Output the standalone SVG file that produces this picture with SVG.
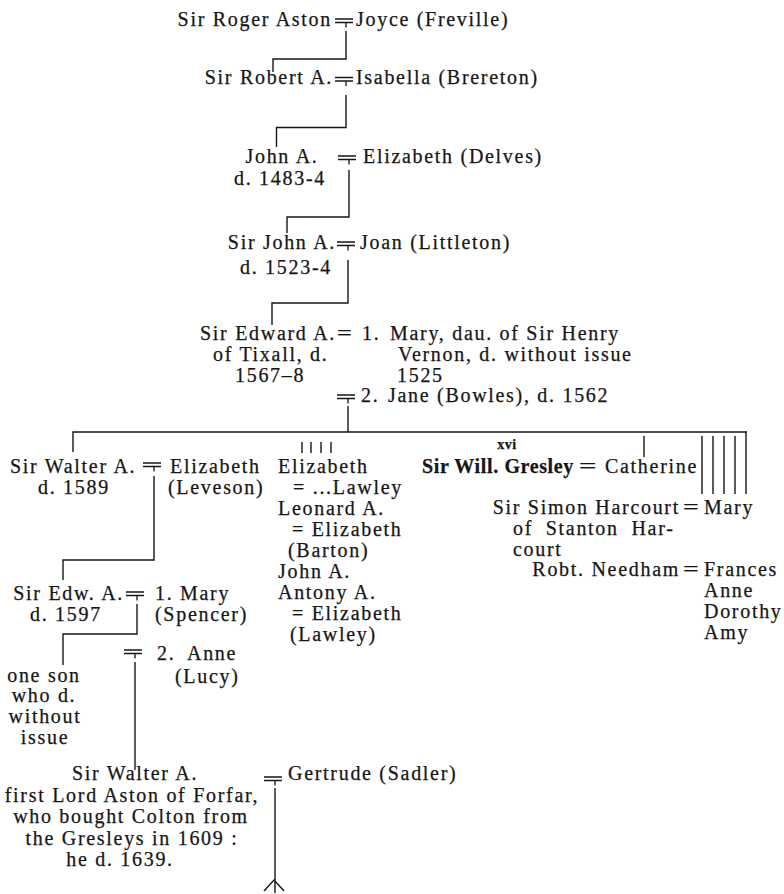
<svg xmlns="http://www.w3.org/2000/svg" width="784" height="894" viewBox="0 0 784 894">
<style>
text{font-family:"Liberation Serif","DejaVu Serif",serif;font-size:20px;letter-spacing:1.7px;fill:#161616;stroke:#161616;stroke-width:0.25}
.b{font-weight:bold}
.m{text-anchor:middle}
.e{text-anchor:end}
.s{font-size:14px;font-weight:bold;letter-spacing:0.5px}
.c path{stroke:#161616;stroke-width:1.4;fill:none}
</style>
<defs>
<path id="mt" d="M-11,-7H7M-11,-3.5H7M0,-3.5V1.5" stroke="#161616" stroke-width="1.3" fill="none"/>
</defs>
<rect width="784" height="894" fill="#fff"/>
<g id="connectors" class="c">
<use href="#mt" x="346" y="26"/>
<use href="#mt" x="346" y="84.5"/>
<use href="#mt" x="349" y="163"/>
<use href="#mt" x="348" y="249"/>
<use href="#mt" x="348" y="402"/>
<use href="#mt" x="154" y="470"/>
<use href="#mt" x="137" y="599"/>
<use href="#mt" x="135" y="657"/>
<use href="#mt" x="275" y="784"/>
<path d="M346,31V59H273V72"/>
<path d="M346,95V127.5H276.5V147"/>
<path d="M349,170V217H287V233"/>
<path d="M348,260V303H272V325"/>
<path d="M348,406V432"/>
<path d="M73,452V432H747"/>
<path d="M302,442V453M311,442V453M321,442V453M331,442V453"/>
<path d="M644,436V457"/>
<path d="M702,436V494M713,436V494M724,436V494M735,436V494M746,432V494"/>
<path d="M154,476V560H63V580"/>
<path d="M137,604V634H63V665"/>
<path d="M135,662V770"/>
<path d="M275,788V893M264,891L274,880L284,891"/>
</g>
<g id="roger"><text class="e" x="332" y="26">Sir Roger Aston</text></g>
<g id="joyce"><text x="356" y="26">Joyce (Freville)</text></g>
<g id="robert"><text class="e" x="333" y="84">Sir Robert A.</text></g>
<g id="isabella"><text x="356" y="84">Isabella (Brereton)</text></g>
<g id="john"><text class="m" x="282" y="163">John A.</text><text class="m" x="280" y="185">d. 1483-4</text></g>
<g id="elizabeth-delves"><text x="363" y="163">Elizabeth (Delves)</text></g>
<g id="sir-john"><text class="e" x="336" y="249">Sir John A.</text><text x="240" y="274">d. 1523-4</text></g>
<g id="joan"><text x="360" y="249">Joan (Littleton)</text></g>
<g id="edward"><text x="200" y="340">Sir Edward A.</text><text x="213" y="361">of Tixall, d.</text><text x="235" y="382">1567–8</text><text x="337" y="340" textLength="17" lengthAdjust="spacingAndGlyphs">=</text></g>
<g id="mary-vernon"><text x="362" y="340">1.</text><text x="390" y="340">Mary, dau. of Sir Henry</text><text x="398" y="361">Vernon, d. without issue</text><text x="397" y="382">1525</text></g>
<g id="jane"><text x="361" y="402">2.</text><text x="388" y="402">Jane (Bowles), d. 1562</text></g>
<g id="walter"><text x="10" y="473">Sir Walter A.</text><text x="38" y="494">d. 1589</text></g>
<g id="elizabeth-leveson"><text x="170" y="473">Elizabeth</text><text x="168" y="494">(Leveson)</text></g>
<g id="siblings">
<text x="278" y="473">Elizabeth</text>
<text x="293" y="494">= ...Lawley</text>
<text x="278" y="515">Leonard A.</text>
<text x="292" y="536">= Elizabeth</text>
<text x="288" y="557">(Barton)</text>
<text x="278" y="578">John A.</text>
<text x="278" y="599">Antony A.</text>
<text x="292" y="620">= Elizabeth</text>
<text x="290" y="641">(Lawley)</text>
</g>
<g id="gresley"><text class="s m" x="507" y="449">xvi</text><text class="b" x="422" y="473" font-size="18" textLength="153">Sir Will. Gresley</text><text x="579" y="473" textLength="20" lengthAdjust="spacingAndGlyphs">=</text></g>
<g id="catherine"><text x="605" y="473">Catherine</text></g>
<g id="harcourt"><text class="e" x="680" y="514">Sir Simon Harcourt</text><text x="513" y="535" word-spacing="6">of Stanton Har-</text><text x="513" y="556">court</text><text x="683" y="514" textLength="18" lengthAdjust="spacingAndGlyphs">=</text></g>
<g id="mary-harcourt"><text x="704" y="514">Mary</text></g>
<g id="needham"><text class="e" x="680" y="576">Robt. Needham</text><text x="683" y="576" textLength="18" lengthAdjust="spacingAndGlyphs">=</text></g>
<g id="frances"><text x="704" y="576">Frances</text></g>
<g id="anne-sister"><text x="704" y="597">Anne</text></g>
<g id="dorothy"><text x="704" y="618">Dorothy</text></g>
<g id="amy"><text x="704" y="639">Amy</text></g>
<g id="edw"><text class="e" x="124" y="600">Sir Edw. A.</text><text x="30" y="621">d. 1597</text></g>
<g id="mary-spencer"><text x="155" y="600">1.</text><text x="180" y="600">Mary</text><text x="155" y="621">(Spencer)</text></g>
<g id="anne-lucy"><text x="157" y="660">2.</text><text x="187" y="660">Anne</text><text x="175" y="683">(Lucy)</text></g>
<g id="one-son"><text class="m" x="44" y="682">one son</text><text class="m" x="44" y="702">who d.</text><text class="m" x="45" y="723">without</text><text class="m" x="45" y="744">issue</text></g>
<g id="walter-lord"><text class="m" x="135" y="780">Sir Walter A.</text><text class="m" x="132" y="802">first Lord Aston of Forfar,</text><text class="m" x="131" y="823">who bought Colton from</text><text class="m" x="132" y="845">the Gresleys in 1609 :</text><text class="m" x="120" y="866">he d. 1639.</text></g>
<g id="gertrude"><text x="288" y="780">Gertrude (Sadler)</text></g>
</svg>
